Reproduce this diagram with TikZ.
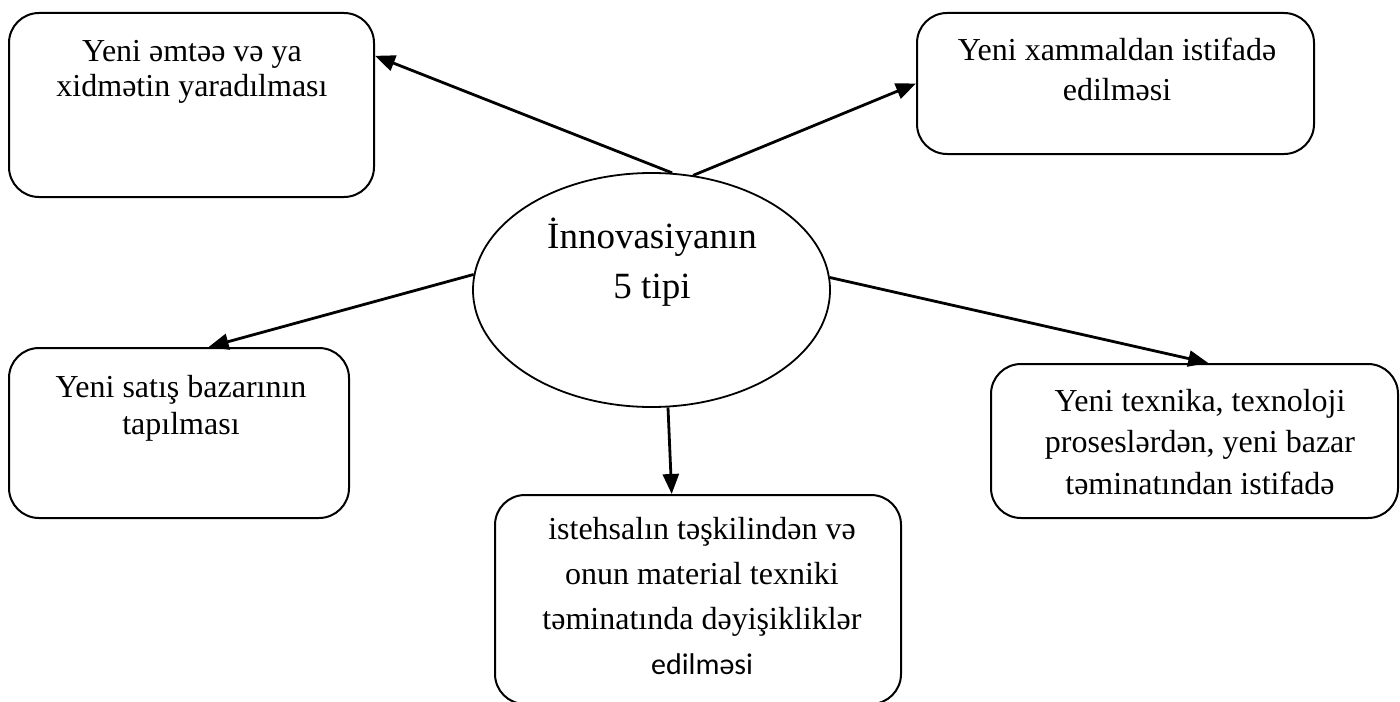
\documentclass[tikz,border=0pt]{standalone}
\usepackage{fontspec}
\setmainfont{Liberation Serif}
\newfontfamily\calib{Carlito}
\usetikzlibrary{arrows.meta,shapes.geometric}
\begin{document}
\begin{tikzpicture}[x=0.5pt,y=-0.5pt,
  box/.style={draw,line width=1pt,rounded corners=15pt,inner sep=0pt},
  lbl/.style={font=\fontsize{16}{#1}\selectfont,align=center,inner sep=0pt,anchor=base},
  arr/.style={line width=1.4pt,-{Triangle[length=10pt,width=8pt]}}]
\useasboundingbox (0,0) rectangle (1400,701);
% central ellipse
\node[draw,ellipse,line width=0.9pt,inner sep=0pt,minimum width=178.5pt,minimum height=117pt] (ell) at (651.5,290) {};
\node[font=\fontsize{18.5}{25}\selectfont,align=center,inner sep=0pt,anchor=base] (te) at (652,298) {İnnovasiyanın\\5 tipi};
% boxes
\node[box,minimum width=182.5pt,minimum height=92pt] (b1) at (191.5,105) {};
\node[lbl=17.5pt] (t1) at (192,97) {Yeni əmtəə və ya\\xidmətin yaradılması};
\node[box,minimum width=198.5pt,minimum height=70.5pt] (b2) at (1115.5,83.5) {};
\node[lbl=20pt] (t2) at (1117,100) {Yeni xammaldan istifadə\\edilməsi};
\node[box,minimum width=170pt,minimum height=85pt] (b3) at (179,433) {};
\node[lbl=18.75pt] (t3) at (181,434.5) {Yeni satış bazarının\\tapılması};
\node[box,minimum width=203.5pt,minimum height=77pt] (b4) at (1194.5,441) {};
\node[lbl=20.75pt] (t4) at (1200,494) {Yeni texnika, texnoloji\\proseslərdən, yeni bazar\\təminatından istifadə};
\node[box,minimum width=203pt,minimum height=104.5pt] (b5) at (698,599.5) {};
\node[lbl=22.5pt] (t5) at (702,674) {istehsalın təşkilindən və\\onun material texniki\\təminatında dəyişikliklər\\{\calib\fontsize{15}{22.5}\selectfont edilməsi}};
% connectors
\draw[arr] (ell.80) -- (b1.15.9);
\draw[arr] (ell.70.6) -- (b2.west);
\draw[arr] (ell.175) -- (b3.71.8);
\draw[arr] (ell.4) -- (b4.80.8);
\draw[arr] (ell.-82) -- (b5.104.1);
\end{tikzpicture}
\end{document}
